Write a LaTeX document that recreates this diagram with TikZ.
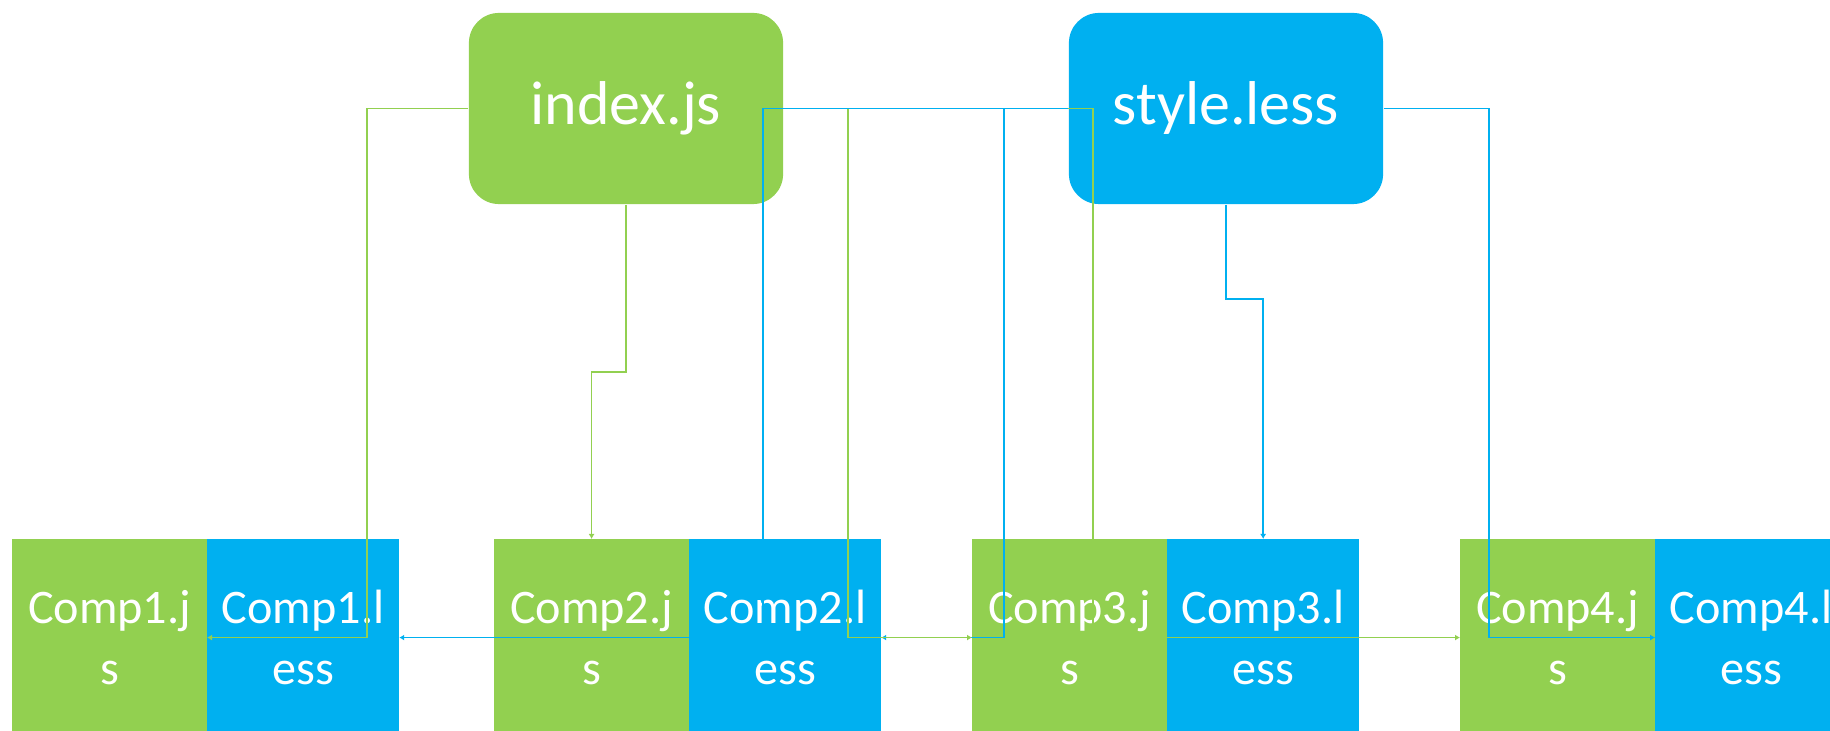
\documentclass[tikz,border=0pt]{standalone}
\usepackage{fontspec}
\setmainfont{Carlito}
\usepackage{xcolor}
\usetikzlibrary{arrows.meta, positioning}
\definecolor{jsgreen}{RGB}{146,208,80}
\definecolor{lessblue}{RGB}{0,176,240}

\begin{document}
\begin{tikzpicture}[
  x=0.01cm, y=-0.01cm,
  >={Latex[length=0.5mm, width=0.6mm]},
  entry/.style={rounded corners=0.3cm, minimum width=3.14cm, minimum height=1.91cm,
                inner sep=0pt, text=white, font=\fontsize{17.6}{21}\selectfont},
  comp/.style={minimum height=1.97cm, inner sep=0pt, outer sep=0pt,
               align=center, text=white, font=\fontsize{13.7}{17.4}\selectfont},
  jsfile/.style={comp, fill=jsgreen, minimum width=1.95cm},
  lessfile/.style={comp, fill=lessblue, minimum width=1.92cm},
  jsline/.style={->, draw=jsgreen, line width=0.45pt},
  lessline/.style={->, draw=lessblue, line width=0.45pt}
]
  \useasboundingbox (0,0) rectangle (1830,731);

  % entry files
  \node[entry, fill=jsgreen] (index) at (626,108.5) {index.js};
  \node[entry, fill=lessblue] (style) at (1226,108.5) {style.less};

  % components
  \node[jsfile, anchor=north west] (c1js) at (12,539) {Comp1.j\\s};
  \node[lessfile, right=0pt of c1js] (c1less) {Comp1.l\\ess};
  \node[jsfile, anchor=north west] (c2js) at (494,539) {Comp2.j\\s};
  \node[lessfile, right=0pt of c2js] (c2less) {Comp2.l\\ess};
  \node[jsfile, anchor=north west] (c3js) at (972,539) {Comp3.j\\s};
  \node[lessfile, right=0pt of c3js] (c3less) {Comp3.l\\ess};
  \node[jsfile, anchor=north west] (c4js) at (1460,539) {Comp4.j\\s};
  \node[lessfile, right=0pt of c4js] (c4less) {Comp4.l\\ess};

  % imports
  \draw[jsline] (index.west) -- ++(-101,0) |- (c1js.east);
  \draw[jsline] (index.south) -- ++(0,167) -| (c2js.north);
  \draw[lessline] (style.west) -- ++(-64,0) |- (c2less.east);
  \draw[jsline] (index.east) -- ++(64,0) |- (c3js.west);
  \draw[jsline] (index.east) -- ++(309,0) |- (c4js.west);
  \draw[lessline] (style.west) -- ++(-305,0) |- (c1less.east);
  \draw[lessline] (style.south) -- ++(0,94) -| (c3less.north);
  \draw[lessline] (style.east) -- ++(105,0) |- (c4less.west);
\end{tikzpicture}
\end{document}
